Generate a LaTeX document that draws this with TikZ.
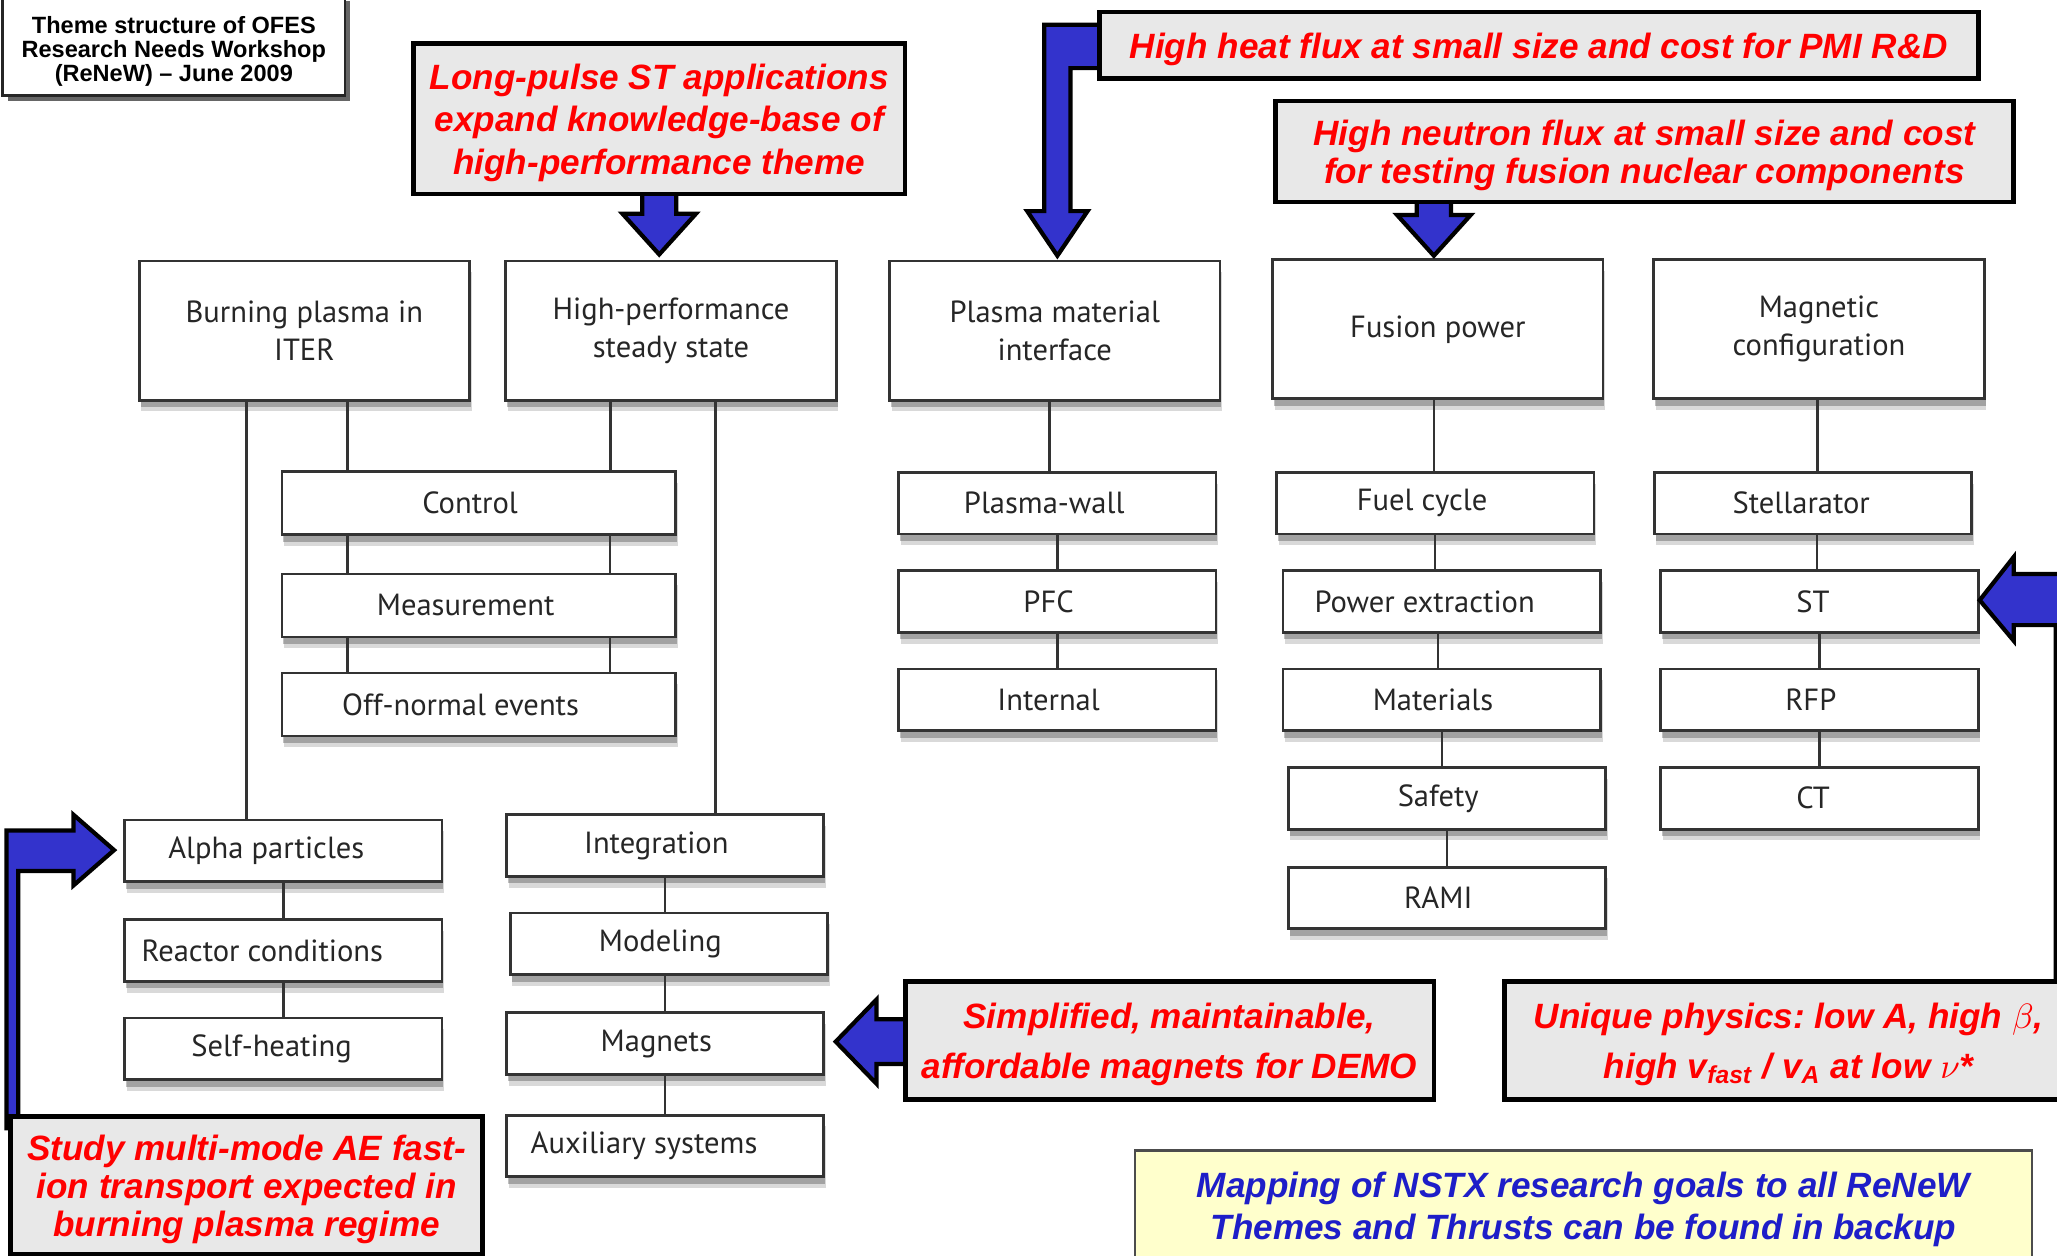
\documentclass[tikz,border=0pt]{standalone}
\usepackage{fontspec}
\setmainfont{Liberation Sans}
\newfontfamily\boxfont{PT Sans}
\usetikzlibrary{calc,shadows}
\definecolor{calloutgray}{RGB}{232,232,232}
\definecolor{arrowblue}{RGB}{51,51,204}
\definecolor{noteyellow}{RGB}{255,255,204}
\definecolor{noteblue}{RGB}{30,30,200}
\definecolor{callred}{RGB}{255,0,0}

% block arrow pointing down: #1 tip, #2 shaft length above the head
\newcommand{\blkdown}[2]{\filldraw[blockarrow] (#1) -- ++(-28,-31) -- ++(15,0) -- ++(0,-#2) -- ++(26,0) -- ++(0,#2) -- ++(15,0) -- cycle;}
% a little room above the first line of a callout
\newcommand{\topgap}{\rule{0pt}{9.6pt}}
\newcommand{\nudgeamt}{0pt}

\begin{document}
\begin{tikzpicture}[
x=0.013119cm, y=-0.013119cm,
boxshadow/.style={drop shadow={shadow xshift=0.6pt, shadow yshift=-3.2pt, opacity=0.15, fill=black}, drop shadow={shadow xshift=0.4pt, shadow yshift=-2pt, opacity=0.25, fill=black}},
nudge/.store in=\nudgeamt,
hdr/.style={draw=black!80, line width=0.8pt, fill=white, minimum width=3.306cm, minimum height=1.391cm, inner sep=0pt, align=center, text=black!85, font=\boxfont\fontsize{8.7}{10.8}\selectfont, boxshadow, nudge=0pt, execute at end node={\hspace*{\nudgeamt}}},
sub/.style={hdr, minimum width=3.175cm, minimum height=0.617cm, nudge=5pt},
widesub/.style={sub, minimum width=3.936cm, minimum height=0.63cm},
link/.style={draw=black!80, line width=0.7pt},
callout/.style={draw=black, line width=1.3pt, fill=calloutgray, inner sep=0pt, align=center, text=callred, font=\bfseries\itshape\fontsize{10}{12}\selectfont\frenchspacing},
note/.style={draw=black!70, line width=0.6pt, fill=noteyellow, inner sep=0pt, align=center, text=noteblue, font=\bfseries\itshape\fontsize{10}{12}\selectfont},
titlebox/.style={draw=black!85, line width=0.8pt, fill=white, inner sep=0pt, align=center, font=\bfseries\fontsize{6.7}{6.9}\selectfont, drop shadow={shadow xshift=1.5pt, shadow yshift=-1.5pt, opacity=0.6, fill=black}},
blockarrow/.style={fill=arrowblue, draw=black, line width=1.2pt, line join=miter}
]
\useasboundingbox (0,0) rectangle (1568,957);
\fill[white] (0,0) rectangle (1568,957);
\clip (0,0) rectangle (1568,957);

\node[titlebox, minimum width=3.424cm, minimum height=0.997cm] (title) at (132.5,35) {\rule{0pt}{8pt}Theme structure of OFES\\Research Needs Workshop\\(ReNeW) -- June 2009};

% themes
\node[hdr] (burn) at (232,252) {Burning plasma in\\ITER};
\node[hdr] (hpss) at (511.5,252) {High-performance\\steady state};
\node[hdr] (pmi) at (804,252) {Plasma material\\interface};
\node[hdr] (fus) at (1096,251) {Fusion power};
\node[hdr] (mag) at (1386.5,251) {Magnetic\\configuration};

% thrusts
\node[widesub] (ctrl) at (365,383.5) {Control};
\node[widesub, nudge=7.5pt] (meas) at (365,461.5) {Measurement};
\node[widesub, nudge=10.4pt] (offn) at (365,537) {Off-normal events};
\node[sub, nudge=9.7pt] (alpha) at (216,648.5) {Alpha particles};
\node[sub, nudge=12pt] (react) at (216,724.5) {Reactor conditions};
\node[sub, nudge=6.7pt] (selfh) at (216,799.5) {Self-heating};
\node[sub] (integ) at (507,644.5) {Integration};
\node[sub] (model) at (510,719.5) {Modeling};
\node[sub] (magn) at (507,795.5) {Magnets};
\node[sub, nudge=12pt] (aux) at (507,873.5) {Auxiliary systems};
\node[sub, nudge=7.5pt] (pwall) at (806,383.5) {Plasma-wall};
\node[sub] (pfc) at (806,458.5) {PFC};
\node[sub] (intl) at (806,533.5) {Internal};
\node[sub, nudge=7.5pt] (fuel) at (1094,383.5) {Fuel cycle};
\node[sub, nudge=9.7pt] (pext) at (1099,458.5) {Power extraction};
\node[sub] (mats) at (1099,533.5) {Materials};
\node[sub] (safe) at (1103,608.5) {Safety};
\node[sub] (rami) at (1103,684.5) {RAMI};
\node[sub, nudge=6.7pt] (stel) at (1382,383.5) {Stellarator};
\node[sub, nudge=3.7pt] (st) at (1387,458.5) {ST};
\node[sub] (rfp) at (1387,533.5) {RFP};
\node[sub, nudge=3.7pt] (ct) at (1387,608.5) {CT};

\foreach \a/\b/\dx in {burn/ctrl/33, hpss/ctrl/-46, ctrl/meas/-100, ctrl/meas/100, meas/offn/-100, meas/offn/100,
  burn/alpha/-44, hpss/integ/34, alpha/react/0, react/selfh/0, integ/model/0, model/magn/-3, magn/aux/0,
  pmi/pwall/-4, pwall/pfc/0, pfc/intl/0, fus/fuel/-3, fuel/pext/0, pext/mats/-3, mats/safe/0, safe/rami/0,
  mag/stel/-1, stel/st/3, st/rfp/0, rfp/ct/0}
{
  \coordinate (top) at ($(\a.south)+(\dx,0)$);
  \draw[link] (top) -- (top |- \b.north);
}

% NSTX arrows
\blkdown{$(hpss.north)+(-9,-4)$}{24}
\blkdown{$(fus.north)+(-3,-2)$}{20}
\filldraw[blockarrow] ($(pmi.north)+(2,-3)$) -- ++(-23,-34) -- ++(13,0) -- ++(0,-142) -- ++(49,0) -- ++(0,33) -- ++(-29,0) -- ++(0,109) -- ++(13,0) -- cycle;
\filldraw[blockarrow] ($(magn.east)+(8,-1.5)$) -- ++(31,-32) -- ++(0,15) -- ++(31,0) -- ++(0,34) -- ++(-31,0) -- ++(0,15) -- cycle;
\filldraw[blockarrow] ($(st.east)+(0,-1)$) -- ++(26,-33) -- ++(0,13) -- ++(66,0) -- ++(0,330) -- ++(-34,0) -- ++(0,-291) -- ++(-32,0) -- ++(0,12) -- cycle;
\filldraw[blockarrow] ($(alpha.west)+(-7,-0.5)$) -- ++(-31,-27) -- ++(0,12) -- ++(-51,0) -- ++(0,227) -- ++(9,0) -- ++(0,-196) -- ++(42,0) -- ++(0,11) -- cycle;

\node[callout, minimum width=4.92cm, minimum height=1.509cm] (lpulse) at (502.5,90.5) {\topgap Long-pulse ST applications\\expand knowledge-base of\\high-performance theme};
\node[callout, minimum width=8.79cm, minimum height=0.669cm] (heatflux) at (1173,34.5) {\topgap High heat flux at small size and cost for PMI R\&D};
\node[callout, minimum width=7.386cm, minimum height=1.01cm] (neutron) at (1253.5,115.5) {\topgap High neutron flux at small size and cost\\[-1.2pt]for testing fusion nuclear components};
\node[callout, minimum width=5.287cm, minimum height=1.181cm] (magdemo) at (891.5,793) {\topgap Simplified, maintainable,\\[2pt]affordable magnets for DEMO};
\node[callout, minimum width=5.681cm, minimum height=1.181cm] (unique) at (1363.5,793) {\topgap Unique physics: low A, high $\beta$,\\[2pt]high v\textsubscript{fast} / v\textsubscript{A} at low $\nu$*};
\node[callout, minimum width=4.723cm, minimum height=1.378cm] (multimode) at (188,903.5) {\topgap Study multi-mode AE fast-\\[-1.2pt]ion transport expected in\\[-1.2pt]burning plasma regime};
\node[note, minimum width=8.973cm, minimum height=1.089cm] (mapping) at (1207,918.5) {\topgap Mapping of NSTX research goals to all ReNeW\\Themes and Thrusts can be found in backup};
\end{tikzpicture}
\end{document}
